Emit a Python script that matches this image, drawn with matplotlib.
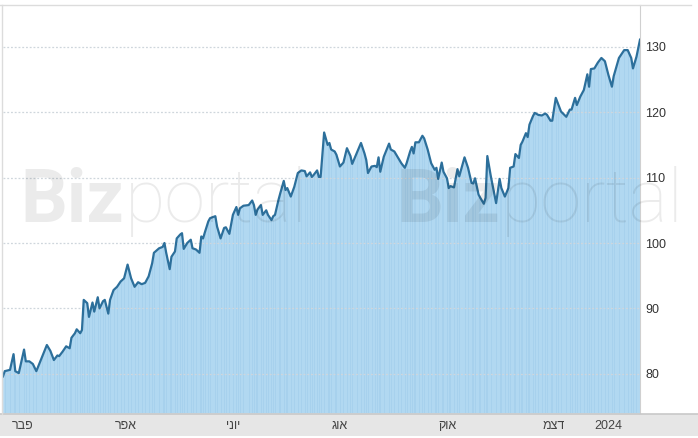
"""
plot.py
-------
Price line with a light blue area fill (Bizportal style), year 2023 into Jan 2024.
"""

import datetime as dt

import matplotlib
matplotlib.use("Agg")
import matplotlib.pyplot as plt
from matplotlib.lines import Line2D
from matplotlib.patches import Rectangle

# ---- data ---------------------------------------------------------------
start_date = dt.date(2023, 1, 21)

# days since start_date
day_offsets = [
    0, 1, 4, 6, 7, 9, 12, 13, 15, 17, 19, 22, 25, 27, 29, 31, 32, 34, 36, 38,
    39, 41, 42, 44, 45, 46, 48, 49, 51, 52, 54, 55, 57, 58, 60, 61, 63, 65, 67, 69,
    71, 73, 75, 77, 79, 81, 83, 85, 86, 89, 91, 92, 93, 95, 96, 98, 99, 101, 102, 103,
    105, 107, 108, 110, 112, 113, 114, 115, 117, 118, 121, 122, 124, 126, 127, 129, 131, 133, 134, 135,
    137, 140, 142, 143, 144, 145, 147, 148, 150, 151, 153, 154, 155, 157, 158, 160, 161, 162, 164, 166,
    168, 170, 172, 173, 175, 176, 177, 179, 180, 181, 183, 185, 186, 187, 189, 190, 192, 194, 196, 198,
    199, 202, 204, 206, 207, 208, 210, 212, 213, 214, 215, 217, 220, 221, 223, 225, 227, 229, 230, 232,
    233, 234, 235, 237, 239, 240, 242, 244, 246, 247, 248, 250, 251, 253, 254, 255, 257, 259, 260, 263,
    265, 267, 268, 269, 271, 272, 274, 275, 276, 278, 281, 283, 284, 286, 288, 289, 291, 292, 294, 295,
    296, 298, 299, 300, 302, 303, 305, 307, 309, 310, 312, 313, 315, 316, 318, 321, 323, 324, 326, 327,
    329, 331, 333, 334, 335, 337, 339, 341, 343, 345, 347, 348, 351, 354, 356, 358, 359, 361, 363,
]

prices = [
    79.6, 80.4, 80.6, 83.0, 80.4, 80.1, 83.7, 81.9, 81.9, 81.5, 80.4, 82.4, 84.4, 83.5, 82.1, 82.8, 82.7, 83.4, 84.2, 83.9,
    85.5, 86.2, 86.8, 86.2, 86.7, 91.3, 90.8, 88.7, 90.9, 89.5, 91.7, 90.0, 91.1, 91.3, 89.2, 91.3, 92.8, 93.3, 94.1, 94.6,
    96.7, 94.6, 93.3, 94.0, 93.7, 93.9, 94.9, 96.9, 98.5, 99.2, 99.4, 100.0, 98.5, 96.0, 97.9, 98.7, 100.7, 101.3, 101.5, 99.1,
    100.0, 100.5, 99.2, 99.0, 98.5, 101.0, 100.7, 101.6, 103.3, 103.8, 104.1, 102.5, 100.7, 102.3, 102.4, 101.4, 104.3, 105.5, 104.3, 105.3,
    105.7, 105.8, 106.5, 105.8, 104.3, 105.1, 105.8, 104.3, 105.0, 104.3, 103.5, 104.1, 104.3, 106.6, 107.6, 109.5, 108.1, 108.4, 107.1, 108.6,
    110.7, 111.1, 111.0, 110.2, 110.8, 110.1, 110.4, 111.1, 110.1, 110.1, 116.9, 115.0, 115.3, 114.3, 114.0, 113.5, 111.7, 112.3, 114.5, 113.3,
    112.1, 114.0, 115.3, 113.7, 112.7, 110.7, 111.7, 111.8, 111.6, 113.1, 110.9, 113.2, 115.2, 114.3, 114.0, 113.1, 112.2, 111.5, 112.2, 114.0,
    114.7, 113.7, 115.4, 115.4, 116.4, 116.0, 114.3, 112.2, 111.2, 111.5, 109.8, 112.3, 110.9, 109.9, 108.4, 108.7, 108.5, 111.3, 110.2, 113.1,
    111.5, 109.2, 109.1, 109.9, 107.4, 106.9, 106.0, 106.9, 113.3, 110.2, 106.1, 109.8, 108.4, 107.1, 108.4, 111.5, 111.7, 113.6, 113.0, 115.0,
    115.5, 116.8, 116.2, 118.1, 119.4, 119.9, 119.6, 119.5, 119.8, 119.6, 118.7, 118.7, 122.2, 121.5, 120.1, 119.3, 120.4, 120.4, 122.2, 121.1,
    122.4, 123.4, 125.8, 123.9, 126.6, 126.7, 127.6, 128.3, 127.8, 125.7, 123.9, 125.5, 128.3, 129.5, 129.5, 128.3, 126.7, 128.5, 131.1,
]

# x-axis month labels (Hebrew, logical order)
tick_dates = [dt.date(2023, 2, 1), dt.date(2023, 4, 1), dt.date(2023, 6, 1),
              dt.date(2023, 8, 1), dt.date(2023, 10, 1), dt.date(2023, 12, 1),
              dt.date(2024, 1, 1)]
tick_labels = ["פבר", "אפר", "יוני", "אוג", "אוק", "דצמ", "2024"]

y_ticks = [80, 90, 100, 110, 120, 130]

dates = [start_date + dt.timedelta(days=d) for d in day_offsets]

# matplotlib has no bidi support, so hebrew words are flipped for display
def visual(s):
    return s if s.isdigit() else s[::-1]


# ---- figure ---------------------------------------------------------------
W, H = 698, 438
fig = plt.figure(figsize=(W / 100, H / 100), dpi=100)
fig.patch.set_facecolor("white")

# gray strip under the plot that holds the month labels
fig.add_artist(Rectangle((0, 2 / H), 1, 22 / H, transform=fig.transFigure,
                         facecolor="#e6e6e6", edgecolor="none", zorder=0))
fig.add_artist(Line2D([0, 1], [24 / H, 24 / H], transform=fig.transFigure,
                      color="#c8c8c8", lw=1.2, zorder=1))
# thin frame lines (top and left)
fig.add_artist(Line2D([0, 0.99], [1 - 5 / H, 1 - 5 / H], transform=fig.transFigure,
                      color="#dcdcdc", lw=1))
fig.add_artist(Line2D([2 / W, 2 / W], [24 / H, 1 - 5 / H], transform=fig.transFigure,
                      color="#dcdcdc", lw=1))

ax = fig.add_axes([3 / W, 25 / H, 637 / W, 408 / H])
ax.set_facecolor("none")

y_bottom = 74.0
ax.set_ylim(y_bottom, 136.4)
ax.set_xlim(dates[0], dates[-1])

ax.fill_between(dates, prices, y_bottom, color="#b1d8f1", lw=0, zorder=1)
ax.vlines(dates, y_bottom, prices, color="#9bc9e8", lw=0.5, alpha=0.6, zorder=1.5)
ax.plot(dates, prices, color="#2c6f9b", lw=1.6, solid_joinstyle="round", zorder=3)

ax.set_yticks(y_ticks)
ax.yaxis.tick_right()
ax.grid(axis="y", color="#cfd6dc", ls=(0, (1.5, 1.5)), lw=0.9, zorder=2)
ax.set_xticks(tick_dates)
ax.set_xticklabels([visual(t) for t in tick_labels])

ax.tick_params(axis="y", length=0, pad=4, labelsize=9, labelcolor="#333333")
ax.tick_params(axis="x", length=0, pad=5, labelsize=9, labelcolor="#444444")
for lab in ax.get_xticklabels() + ax.get_yticklabels():
    lab.set_family(["Liberation Sans", "DejaVu Sans"])

for side in ("top", "left", "bottom"):
    ax.spines[side].set_visible(False)
ax.spines["right"].set_color("#d0d0d0")

# faint watermark, twice
for x0 in (20, 396):
    t1 = fig.text(x0 / W, 1 - 222 / H, "Biz", fontsize=53, fontweight="bold",
                  family=["Roboto", "DejaVu Sans"], color="black", alpha=0.08,
                  va="baseline", ha="left", zorder=5)
    fig.canvas.draw()
    bb = t1.get_window_extent()
    fig.text(bb.x1 / W + 1 / W, 1 - 222 / H, "portal", fontsize=53, fontweight="light",
             family=["Roboto", "DejaVu Sans"], color="black", alpha=0.08,
             va="baseline", ha="left", zorder=5)

fig.savefig("out.png", dpi=100)
